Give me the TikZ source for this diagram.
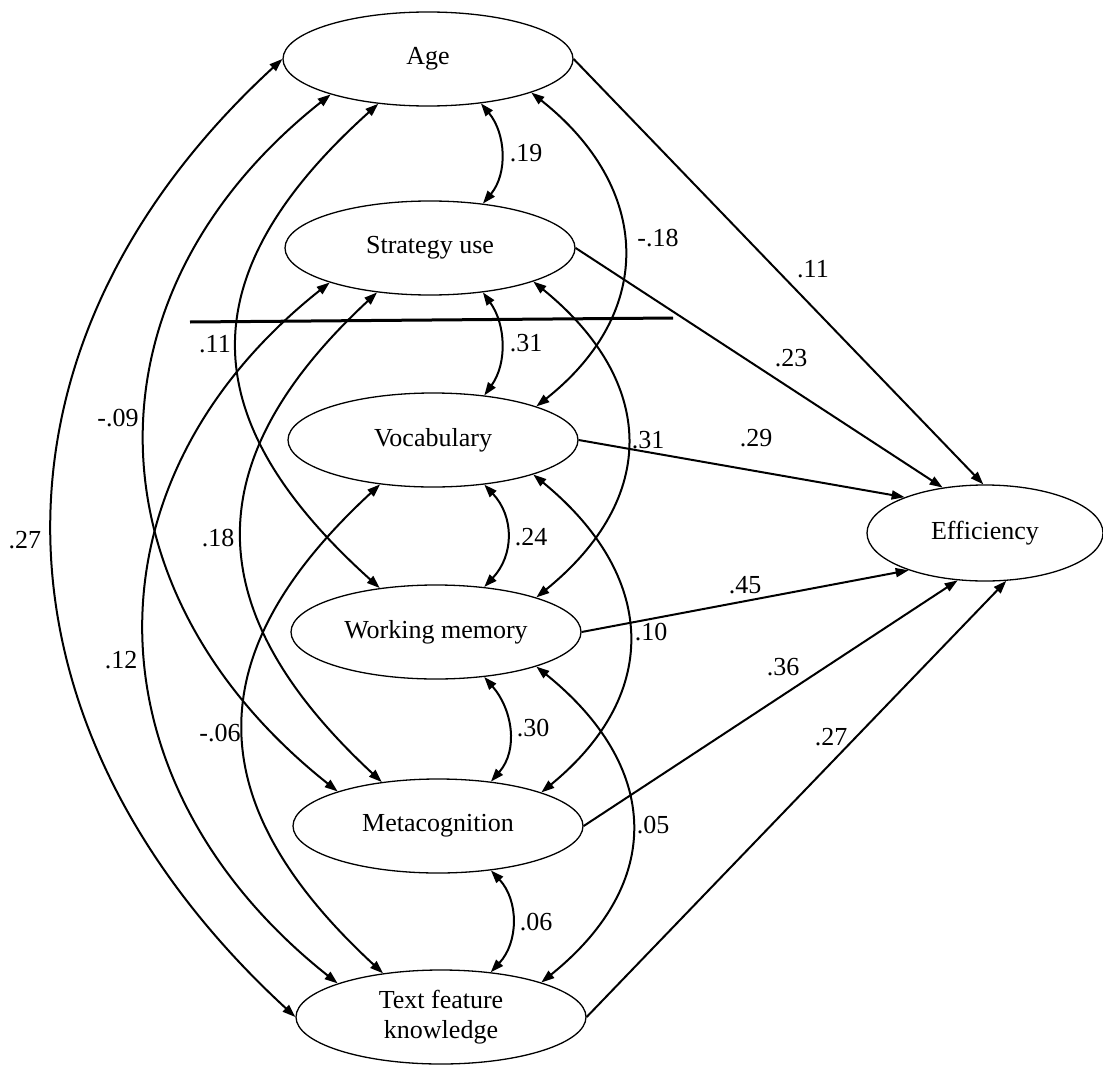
\documentclass[tikz,border=0pt]{standalone}
\usepackage{fontspec}
\setmainfont{Liberation Serif}
\usetikzlibrary{shapes.geometric, arrows.meta}
\begin{document}
\begin{tikzpicture}[x=1pt, y=-1pt,
  >={Triangle[length=13pt, width=9pt]},
  var/.style={ellipse, draw, line width=1.3pt, minimum width=290pt,
              minimum height=94pt, inner sep=0pt, align=center,
              font=\fontsize{26}{30}\selectfont},
  lbl/.style={inner sep=0pt, font=\fontsize{26}{30}\selectfont},
  effect/.style={line width=2pt, ->},
  corr/.style={line width=2pt, <->},
  rule/.style={line width=3pt}]

% canvas
\fill[white] (0,0) rectangle (1103,1065);
\useasboundingbox (0,0) rectangle (1103,1065);

% latent variables
\node[var] (age)  at (428,59)   {Age};
\node[var] (stu)  at (430,248)  {Strategy use};
\node[var] (voc)  at (433,440)  {Vocabulary};
\node[var] (wm)   at (436,632)  {Working memory};
\node[var] (meta) at (438,826)  {Metacognition};
\node[var] (tf)   at (441,1017) {Text feature\\knowledge};
\node[var, minimum width=236pt, minimum height=96pt] (eff) at (985,533) {Efficiency};

% horizontal rule across the upper block
\coordinate (ruleA) at (190,322);
\coordinate (ruleB) at (673,318);
\draw[rule] (ruleA) -- (ruleB);

% direct effects on efficiency
\draw[effect] (age.0)  -- (eff.92);
\draw[effect] (stu.0)  -- (eff.133);
\draw[effect] (voc.0)  -- (eff.156);
\draw[effect] (wm.0)   -- (eff.206);
\draw[effect] (meta.0) -- (eff.240);
\draw[effect] (tf.0)   -- (eff.294);

% correlations between neighbouring variables
\draw[corr] (age.320)  .. controls +(25,30) and +(25,-30) .. (stu.40);
\draw[corr] (stu.320)  .. controls +(23,32) and +(23,-32) .. (voc.41);
\draw[corr] (voc.319)  .. controls +(30,32) and +(30,-32) .. (wm.43);
\draw[corr] (wm.317)   .. controls +(28,32) and +(28,-32) .. (meta.40);
\draw[corr] (meta.320) .. controls +(28,30) and +(28,-30) .. (tf.42);

% correlations skipping one variable (right side)
\draw[corr] (age.342) .. controls +(120,95) and +(120,-95) .. (voc.18);
\draw[corr] (stu.342) .. controls +(123,100) and +(123,-100) .. (wm.19);
\draw[corr] (voc.341) .. controls +(122,100) and +(122,-100) .. (meta.18);
\draw[corr] (wm.341)  .. controls +(124,100) and +(124,-100) .. (tf.19);

% longer correlations (left side)
\draw[corr] (age.180) .. controls +(-315,290) and +(-315,-290) .. (tf.180);
\draw[corr] (age.200) .. controls +(-252,200) and +(-252,-200) .. (meta.161);
\draw[corr] (age.222) .. controls +(-189,170) and +(-189,-170) .. (wm.142);
\draw[corr] (stu.199) .. controls +(-252,200) and +(-252,-200) .. (tf.162);
\draw[corr] (stu.220) .. controls +(-183,170) and +(-183,-170) .. (meta.142);
\draw[corr] (voc.220) .. controls +(-184,170) and +(-184,-170) .. (tf.143);

% coefficients: neighbouring correlations
\node[lbl] (c19) at (526,153) {.19};
\node[lbl] (c31a) at (526,343) {.31};
\node[lbl] (c24) at (531,537) {.24};
\node[lbl] (c30) at (533,728) {.30};
\node[lbl] (c06) at (536,922) {.06};

% coefficients: right-side correlations
\node[lbl] (cm18) at (658,238) {-.18};
\node[lbl] (c31b) at (648,440) {.31};
\node[lbl] (c10) at (651,632) {.10};
\node[lbl] (c05) at (653,825) {.05};

% coefficients: left-side correlations
\node[lbl] (c27l) at (25,540)  {.27};
\node[lbl] (cm09) at (118,418) {-.09};
\node[lbl] (c11l) at (215,344) {.11};
\node[lbl] (c18) at (218,538)  {.18};
\node[lbl] (c12) at (121,660)  {.12};
\node[lbl] (cm06) at (220,733) {-.06};

% coefficients: effects on efficiency
\node[lbl] (e11) at (813,269) {.11};
\node[lbl] (e23) at (791,358) {.23};
\node[lbl] (e29) at (756,438) {.29};
\node[lbl] (e45) at (745,585) {.45};
\node[lbl] (e36) at (783,667) {.36};
\node[lbl] (e27) at (831,737) {.27};
\end{tikzpicture}
\end{document}
